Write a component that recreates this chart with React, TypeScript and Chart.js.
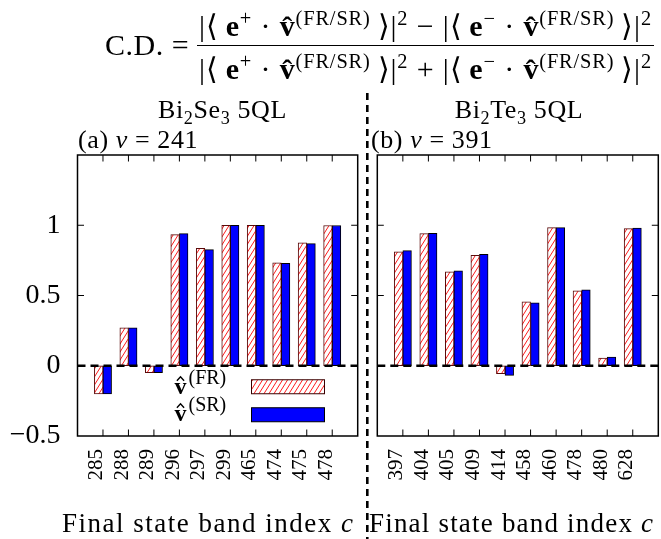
import React, { useEffect, useRef } from 'react';
import { Chart, registerables } from 'chart.js';

Chart.register(...registerables);

// ---- data ----
const categoriesA = ['285', '288', '289', '296', '297', '299', '465', '474', '475', '478'];
const frValuesA = [-0.2, 0.27, -0.05, 0.933, 0.836, 1.0, 1.0, 0.733, 0.874, 0.998];
const srValuesA = [-0.2, 0.27, -0.05, 0.94, 0.826, 1.0, 1.0, 0.729, 0.869, 0.998];

const categoriesB = ['397', '404', '405', '409', '414', '458', '460', '478', '480', '628'];
const frValuesB = [0.81, 0.94, 0.669, 0.786, -0.057, 0.455, 0.983, 0.533, 0.055, 0.976];
const srValuesB = [0.819, 0.943, 0.676, 0.793, -0.069, 0.448, 0.983, 0.54, 0.062, 0.979];

const yTickValues = [-0.5, 0, 0.5, 1];
const yMin = -0.5;
const yMax = 1.5;

const SERIF = '"Liberation Serif", "Times New Roman", serif';

function makeHatch(): CanvasPattern | string {
  const c = document.createElement('canvas');
  c.width = 5;
  c.height = 8;
  const g = c.getContext('2d');
  if (!g) return '#fff';
  g.fillStyle = '#ffffff';
  g.fillRect(0, 0, 5, 8);
  g.strokeStyle = '#ff1a1a';
  g.lineWidth = 1;
  for (const x0 of [-5, 0, 5]) {
    g.beginPath();
    g.moveTo(x0, 8);
    g.lineTo(x0 + 5, 0);
    g.stroke();
  }
  return g.createPattern(c, 'repeat') || '#fff';
}

function fmtTick(v: number): string {
  if (v < 0) return '\u2212' + String(Math.abs(v));
  return String(v);
}

function drawVhat(ctx: CanvasRenderingContext2D, x: number, base: number, sup: string) {
  ctx.fillStyle = '#000';
  ctx.strokeStyle = '#000';
  ctx.textAlign = 'left';
  ctx.textBaseline = 'alphabetic';
  ctx.font = 'bold 24px ' + SERIF;
  ctx.fillText('v', x, base);
  const w = ctx.measureText('v').width;
  ctx.beginPath();
  ctx.moveTo(x + w * 0.2, base - 13);
  ctx.lineTo(x + w * 0.5, base - 17);
  ctx.lineTo(x + w * 0.8, base - 13);
  ctx.lineWidth = 1.4;
  ctx.setLineDash([]);
  ctx.stroke();
  ctx.font = '20px ' + SERIF;
  ctx.fillText(sup, x + w + 2, base - 10);
}

function makeDecorPlugin(withLegend: boolean, withDivider: boolean, hatch: CanvasPattern | string) {
  return {
    id: 'decor' + (withLegend ? 'A' : 'B'),
    afterDatasetsDraw(chart: any) {
      const ctx: CanvasRenderingContext2D = chart.ctx;
      const ca = chart.chartArea;
      const xs = chart.scales.x;
      const ys = chart.scales.y;
      ctx.save();
      // zero dashed line
      const y0 = ys.getPixelForValue(0);
      ctx.strokeStyle = '#000';
      ctx.lineWidth = 2.6;
      ctx.setLineDash([8, 5]);
      ctx.beginPath();
      ctx.moveTo(ca.left, y0);
      ctx.lineTo(ca.right, y0);
      ctx.stroke();
      ctx.setLineDash([]);
      // frame
      ctx.lineWidth = 1.5;
      ctx.strokeRect(ca.left, ca.top, ca.right - ca.left, ca.bottom - ca.top);
      // inner ticks on x
      ctx.lineWidth = 1;
      const n = chart.data.labels.length;
      for (let i = 1; i < n - 1; i++) {
        const px = xs.getPixelForValue(i);
        ctx.beginPath();
        ctx.moveTo(px, ca.top);
        ctx.lineTo(px, ca.top + 6.5);
        ctx.moveTo(px, ca.bottom);
        ctx.lineTo(px, ca.bottom - 6.5);
        ctx.stroke();
      }
      // inner ticks on y
      for (const v of yTickValues) {
        if (v <= yMin || v === 0) continue;
        const py = ys.getPixelForValue(v);
        ctx.beginPath();
        ctx.moveTo(ca.left, py);
        ctx.lineTo(ca.left + 6.5, py);
        ctx.moveTo(ca.right, py);
        ctx.lineTo(ca.right - 6.5, py);
        ctx.stroke();
      }
      if (withLegend) {
        const lx = ca.left + 97;
        const bx = ca.left + 174;
        const bw = 73;
        drawVhat(ctx, lx, y0 + 28, '(FR)');
        drawVhat(ctx, lx, y0 + 55, '(SR)');
        ctx.lineWidth = 1;
        ctx.fillStyle = hatch as any;
        ctx.fillRect(bx, y0 + 14, bw, 14);
        ctx.strokeStyle = '#3a0000';
        ctx.strokeRect(bx, y0 + 14, bw, 14);
        ctx.fillStyle = '#0000ff';
        ctx.fillRect(bx, y0 + 42, bw, 14);
        ctx.strokeStyle = '#000';
        ctx.strokeRect(bx, y0 + 42, bw, 14);
      }
      if (withDivider) {
        ctx.strokeStyle = '#000';
        ctx.lineWidth = 2.6;
        ctx.setLineDash([7, 5]);
        ctx.beginPath();
        ctx.moveTo(2.3, 93);
        ctx.lineTo(2.3, chart.height);
        ctx.stroke();
        ctx.setLineDash([]);
      }
      ctx.restore();
    },
  };
}

function zeroPad(s: any) {
  s.paddingLeft = 0;
  s.paddingRight = 0;
  s.paddingTop = 0;
  s.paddingBottom = 0;
}

function buildChart(
  canvas: HTMLCanvasElement,
  cats: string[],
  fr: number[],
  sr: number[],
  showY: boolean,
  padding: { top: number; right: number; left: number; bottom: number },
  yWidth: number,
  withLegend: boolean,
  withDivider: boolean
) {
  const hatch = makeHatch();
  const labels = ['', ...cats, ''];
  const frData = [null, ...fr, null];
  const srData = [null, ...sr, null];
  return new Chart(canvas, {
    type: 'bar',
    data: {
      labels,
      datasets: [
        {
          label: 'FR',
          data: frData as any,
          backgroundColor: hatch as any,
          borderColor: '#5a0a0a',
          borderWidth: 1,
          borderSkipped: false,
          barThickness: 8.6,
        },
        {
          label: 'SR',
          data: srData as any,
          backgroundColor: '#0000ff',
          borderColor: '#000000',
          borderWidth: 1,
          borderSkipped: false,
          barThickness: 8.6,
        },
      ],
    },
    options: {
      responsive: false,
      animation: false,
      events: [],
      layout: { padding },
      plugins: { legend: { display: false }, tooltip: { enabled: false } },
      scales: {
        x: {
          type: 'category',
          offset: false,
          grid: { display: false, drawTicks: false },
          border: { display: false },
          ticks: {
            autoSkip: false,
            maxRotation: 90,
            minRotation: 90,
            color: '#000',
            padding: 13,
            labelOffset: -6,
            font: { family: SERIF, size: 21 },
          },
          afterFit: (s: any) => {
            s.height = 103;
            zeroPad(s);
          },
        },
        y: {
          display: showY,
          min: yMin,
          max: yMax,
          grid: { display: false, drawTicks: false },
          border: { display: false },
          afterBuildTicks: (s: any) => {
            s.ticks = yTickValues.map((v) => ({ value: v }));
          },
          ticks: {
            color: '#000',
            padding: 17,
            font: { family: SERIF, size: 28 },
            callback: (v: any) => fmtTick(Number(v)),
          },
          afterFit: (s: any) => {
            s.width = yWidth;
            zeroPad(s);
          },
        },
      },
    },
    plugins: [makeDecorPlugin(withLegend, withDivider, hatch)],
  });
}

const supStyle: React.CSSProperties = { fontSize: '0.68em', verticalAlign: '0.55em', lineHeight: 1 };

function Term({ sign }: { sign: string }) {
  return (
    <span>
      |⟨&thinsp;<b>e</b>
      <span style={supStyle}>{sign}</span>
      &nbsp;·&nbsp;
      <b>v̂</b>
      <span style={supStyle}>(FR/SR)</span>
      &thinsp;⟩|<span style={supStyle}>2</span>
    </span>
  );
}

export default function App() {
  const refA = useRef<HTMLCanvasElement>(null);
  const refB = useRef<HTMLCanvasElement>(null);

  useEffect(() => {
    const a = buildChart(
      refA.current!,
      categoriesA,
      frValuesA,
      srValuesA,
      true,
      { top: 155, right: 9.3, left: 0, bottom: 0 },
      77.5,
      true,
      false
    );
    const b = buildChart(
      refB.current!,
      categoriesB,
      frValuesB,
      srValuesB,
      false,
      { top: 155, right: 2.7, left: 12.3, bottom: 0 },
      0,
      false,
      true
    );
    return () => {
      a.destroy();
      b.destroy();
    };
  }, []);

  const text = (extra: React.CSSProperties): React.CSSProperties => ({
    position: 'absolute',
    fontFamily: SERIF,
    color: '#000',
    lineHeight: 1,
    whiteSpace: 'nowrap',
    ...extra,
  });

  return (
    <div
      style={{
        position: 'fixed',
        left: 0,
        top: 0,
        width: 661,
        height: 539,
        background: '#fff',
        overflow: 'hidden',
      }}
    >
      <canvas ref={refA} width={367} height={539} style={{ position: 'absolute', left: 0, top: 0, width: 367, height: 539 }} />
      <canvas ref={refB} width={296} height={539} style={{ position: 'absolute', left: 365, top: 0, width: 296, height: 539 }} />

      {/* formula */}
      <div style={text({ left: 105, top: 6, fontSize: 30, display: 'flex', alignItems: 'center' })}>
        <span style={{ marginRight: 8, letterSpacing: 0.5 }}>C.D. =</span>
        <span style={{ display: 'inline-flex', flexDirection: 'column', alignItems: 'stretch', letterSpacing: 0.85 }}>
          <span style={{ textAlign: 'center', padding: '2px 2px 4px' }}>
            <Term sign="+" />
            &nbsp;−&nbsp;
            <Term sign="−" />
          </span>
          <span style={{ textAlign: 'center', borderTop: '1.8px solid #000', padding: '5px 2px 0' }}>
            <Term sign="+" />
            &nbsp;+&nbsp;
            <Term sign="−" />
          </span>
        </span>
      </div>

      {/* panel titles */}
      <div style={text({ left: 77.5, width: 290, top: 97, fontSize: 26, textAlign: 'center', letterSpacing: 0.6 })}>
        Bi<sub style={{ fontSize: '0.7em', lineHeight: 1 }}>2</sub>Se<sub style={{ fontSize: '0.7em', lineHeight: 1 }}>3</sub> 5QL
      </div>
      <div style={text({ left: 377, width: 284, top: 97, fontSize: 26, textAlign: 'center', letterSpacing: 0.6 })}>
        Bi<sub style={{ fontSize: '0.7em', lineHeight: 1 }}>2</sub>Te<sub style={{ fontSize: '0.7em', lineHeight: 1 }}>3</sub> 5QL
      </div>
      <div style={text({ left: 78, top: 127, fontSize: 26, letterSpacing: 0.6 })}>
        (a) <i>v</i> = 241
      </div>
      <div style={text({ left: 371, top: 127, fontSize: 26, letterSpacing: 0.6 })}>
        (b) <i>v</i> = 391
      </div>

      {/* axis titles */}
      <div style={text({ left: 62, top: 510, fontSize: 27, letterSpacing: 1.5 })}>
        Final state band index <i>c</i>
      </div>
      <div style={text({ left: 369, top: 510, fontSize: 27, letterSpacing: 1.2 })}>
        Final state band index <i>c</i>
      </div>
    </div>
  );
}
